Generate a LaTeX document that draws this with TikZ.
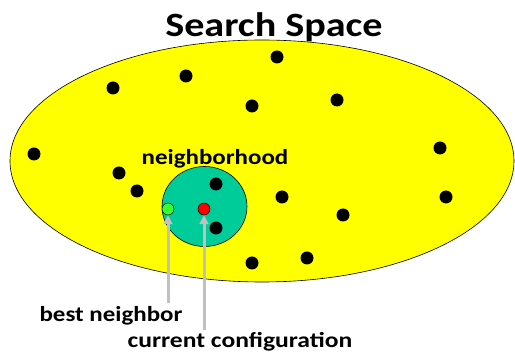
\documentclass[tikz,border=0pt]{standalone}
\usepackage{fontspec}
\setmainfont{Carlito}
\usepackage{tikz}
\usetikzlibrary{positioning, arrows.meta, shapes.geometric}
\definecolor{syellow}{HTML}{FFFF00}
\definecolor{nteal}{HTML}{00CC99}
\definecolor{bgreen}{HTML}{33FF33}
\definecolor{cred}{HTML}{FF0000}
\definecolor{agray}{HTML}{C0C0C0}
\newcommand{\widetext}[2]{\scalebox{#1}[1]{#2}}

\begin{document}
\begin{tikzpicture}[x=1pt, y=-1pt,
    dot/.style={circle, fill=black, inner sep=0pt, minimum size=13pt},
    mark dot/.style={circle, draw=black, line width=0.5pt, inner sep=0pt, minimum size=12pt},
    lbl/.style={font=\fontsize{21.5}{25}\selectfont\bfseries, inner sep=0pt, anchor=base},
    arr/.style={-{Triangle[length=9pt, width=9pt]}, line width=3pt, agray},
]
\useasboundingbox (0,0) rectangle (515,363);

\node[draw=black, line width=0.6pt, fill=syellow, ellipse, minimum width=504pt, minimum height=242pt] (space) at (262,161) {};
\node[font=\fontsize{34}{40}\selectfont\bfseries, inner sep=0pt, anchor=base] (title) at (274,37) {\widetext{1.18}{Search Space}};

\node[draw=black, line width=0.6pt, fill=nteal, ellipse, minimum width=85pt, minimum height=80pt] (hood) at (204.5,206.5) {};
\node[lbl] (hoodlbl) at (215,165) {\widetext{1.16}{neighborhood}};

% search space points
\foreach \name/\px/\py in {a/277/57, b/186/76, c/113/88, d/252/106, e/337/100, f/34/154,
    g/440/148, h/119/173, i/137/191, j/216/184, k/282/197, l/446/197, m/343/215,
    n/216/228, o/252/263, p/307/258}
    \node[dot] (\name) at (\px,\py) {};

\node[mark dot, fill=bgreen] (best) at (168,209) {};
\node[mark dot, fill=cred] (cur) at (204,209) {};

\node[lbl] (bestlbl) at (111,322) {\widetext{1.16}{best neighbor}};
\node[lbl] (curlbl) at (240,348) {\widetext{1.19}{current configuration}};

\coordinate (beststart) at (168,303);
\coordinate (curstart) at (204,330);
\draw[arr] (beststart) -- (best);
\draw[arr] (curstart) -- (cur);
\end{tikzpicture}
\end{document}
